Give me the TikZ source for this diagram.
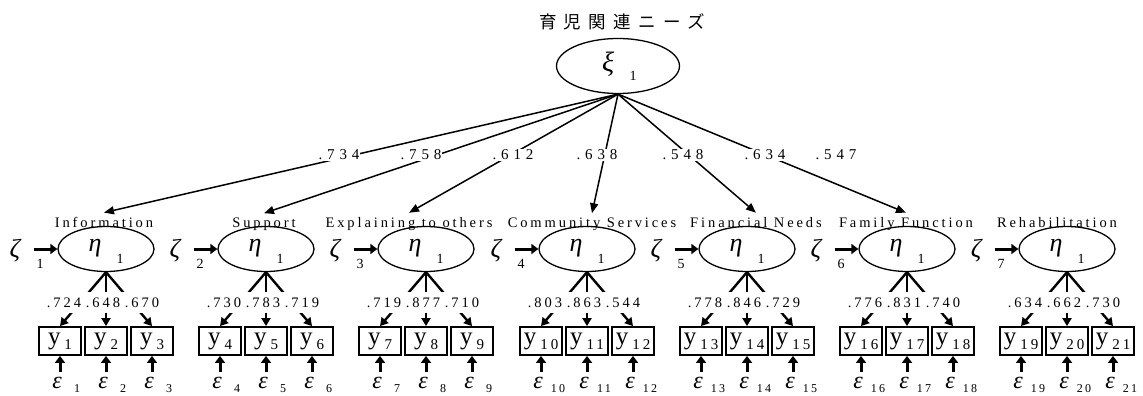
\documentclass[tikz,border=0pt]{standalone}
\usepackage{fontspec}
\setmainfont{Liberation Serif}
\newfontfamily\lsfont[LetterSpace=20]{Liberation Serif}
\newfontfamily\lswide[LetterSpace=32]{Liberation Serif}
\newfontfamily\grfont{Liberation Serif}
\newfontfamily\jpfont[LetterSpace=42]{Noto Sans CJK JP}
\usetikzlibrary{arrows.meta,shapes.geometric}
\tikzset{
  lat/.style={ellipse, draw, line width=1.3pt, minimum width=96pt, minimum height=45pt, inner sep=0pt},
  obs/.style={draw, line width=1.8pt, minimum width=42pt, minimum height=28pt, inner sep=0pt},
  lbl/.style={font=\lsfont\fontsize{14.5}{14.5}\selectfont, inner sep=1pt},
  coef/.style={lbl, fill=white},
  pathcoef/.style={coef, font=\lswide\fontsize{15}{15}\selectfont},
  greek/.style={font=\grfont\itshape\fontsize{26}{26}\selectfont, inner sep=0pt},
  subnum/.style={font=\lsfont\fontsize{14}{14}\selectfont, inner sep=0pt},
  path arrow/.style={-{Triangle[length=10pt,width=8pt]}, line width=1.5pt},
  load arrow/.style={-{Triangle[length=8pt,width=9pt]}, line width=2.4pt},
  err arrow/.style={-{Triangle[length=7pt,width=10pt]}, line width=3pt},
}
\newcommand{\ysym}[1]{{\fontsize{25}{25}\selectfont y}\hspace{4pt}\raisebox{-5pt}{\lsfont\fontsize{15}{15}\selectfont #1}}
\begin{document}
\begin{tikzpicture}[x=1pt,y=-1pt]
\useasboundingbox (0,0) rectangle (1143,396);
% top latent
\node[font=\jpfont\fontsize{17.5}{17.5}\selectfont, inner sep=0pt] (title) at (622,22) {育児関連ニーズ};
\node[lat, minimum width=123pt, minimum height=55pt] (xi) at (618,66) {};
\node[greek, font=\grfont\itshape\fontsize{28}{28}\selectfont] (xil) at (608,64) {ξ};
\node[subnum] (xis) at (633,76) {1};
% groups
\foreach \k/\cx/\lx/\name in {1/106/104/Information, 2/266/264/Support, 3/426/409/Explaining to others, 4/587/592/Community Services, 5/747/756/Financial Needs, 6/907/906/Family Function, 7/1067/1057/Rehabilitation}{
  \node[lat] (e\k) at (\cx,249) {};
  \node[greek] (eta\k) at (\cx-11,248) {η};
  \node[subnum] (etas\k) at (\cx+14,259) {1};
  \node[lbl, anchor=base, inner ysep=4pt] (lab\k) at (\lx,227) {\name};
  \node[greek] (z\k) at (\cx-91,251) {ζ};
  \node[subnum] (zn\k) at (\cx-66,264) {\k};
  \coordinate (zs\k) at (\cx-72,249);
  \draw[err arrow] (zs\k) -- (e\k.west);
  \foreach \j/\dx in {0/-46, 1/0, 2/46}{
    \pgfmathtruncatemacro\n{3*\k-2+\j}
    \node[obs] (y\n) at (\cx+\dx,341) {\ysym{\n}};
    \draw[load arrow] (e\k.south) -- (y\n.north);
    \node[greek, font=\grfont\itshape\fontsize{24}{24}\selectfont] (eps\n) at (\cx+\dx-3,383) {ε};
    \node[subnum, font=\lsfont\fontsize{12}{12}\selectfont] (epsn\n) at (\cx+\dx+17,389) {\n};
    \coordinate (es\n) at (\cx+\dx,372);
    \draw[err arrow] (es\n) -- (y\n.south);
  }
}
% loadings
\foreach \cx/\la/\lb/\lc in {106/.724/.648/.670, 266/.730/.783/.719, 426/.719/.877/.710, 587/.803/.863/.544, 747/.778/.846/.729, 907/.776/.831/.740, 1067/.634/.662/.730}{
  \node[coef, minimum height=21pt, minimum width=39.5pt] (la\cx) at (\cx-42,302.5) {\la};
  \node[coef, minimum height=21pt, minimum width=39.5pt] (lb\cx) at (\cx-3,302.5) {\lb};
  \node[coef, minimum height=21pt, minimum width=39.5pt] (lc\cx) at (\cx+36,302.5) {\lc};
}
% structural paths
\foreach \k in {1,...,6}{
  \draw[path arrow] (xi.south) -- (lab\k.north);
}
\foreach \cl/\px in {.734/339, .758/421, .612/513, .638/597, .548/683, .634/765, .547/836}{
  \node[pathcoef] (g\px) at (\px,155) {\cl};
}
\end{tikzpicture}
\end{document}
